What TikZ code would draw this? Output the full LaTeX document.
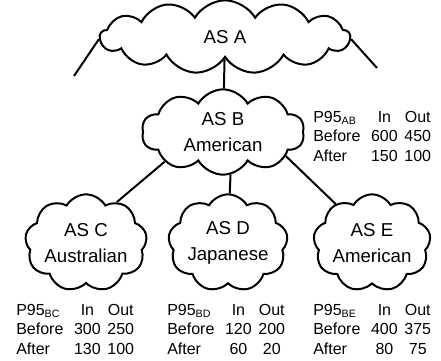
\documentclass[tikz,border=0pt]{standalone}
\usepackage{fontspec}
\setmainfont{Liberation Sans}
\usetikzlibrary{shapes.symbols}
\tikzset{
  ascloud/.style={cloud, draw, line width=1.5pt, cloud puffs=9, cloud puff arc=120,
    cloud ignores aspect, inner sep=0pt, align=center,
    font=\fontsize{14}{19.5}\selectfont},
  link/.style={line width=1.5pt},
  p95table/.style={anchor=north west, inner sep=0pt, font=\fontsize{12}{14.6}\selectfont}
}
\newcommand{\ptable}[5]{%
  \begin{tabular}{@{}l@{\hspace{8pt}}c@{\hspace{5pt}}c@{}}
  P95\textsubscript{#1} & In & Out\\
  Before & #2 & #3\\
  After & #4 & #5
  \end{tabular}}
\begin{document}
\begin{tikzpicture}[x=0.75pt,y=-0.75pt]
\useasboundingbox (0,0) rectangle (441,360);
\node[ascloud, cloud puffs=13, minimum width=187.5pt, minimum height=55pt] (asa) at (225,37) {AS A};
\node[ascloud, cloud puffs=10, minimum width=122pt, minimum height=64pt] (asb) at (223,132) {AS B\\American};
\node[ascloud, minimum width=91.5pt, minimum height=73pt] (asc) at (86,243) {AS C\\Australian};
\node[ascloud, minimum width=88pt, minimum height=73pt] (asd) at (228,243) {AS D\\Japanese};
\node[ascloud, minimum width=88pt, minimum height=73pt] (ase) at (372,243) {AS E\\American};
\coordinate (al) at (74,76);
\coordinate (ar) at (377,68);
\draw[link] (asa.181) -- (al);
\draw[link] (asa.359) -- (ar);
\draw[link] (asa) -- (asb);
\draw[link] (asb.207) -- (asc.53);
\draw[link] (asb.280) -- (asd.88);
\draw[link] (asb.339) -- (ase.133);
\node[p95table] (tab) at (313,108.5) {\ptable{AB}{600}{450}{150}{100}};
\node[p95table] (tbc) at (16,301.5) {\ptable{BC}{300}{250}{130}{100}};
\node[p95table] (tbd) at (167,301.5) {\ptable{BD}{120}{200}{60}{20}};
\node[p95table] (tbe) at (313,301.5) {\ptable{BE}{400}{375}{80}{75}};
\end{tikzpicture}
\end{document}
